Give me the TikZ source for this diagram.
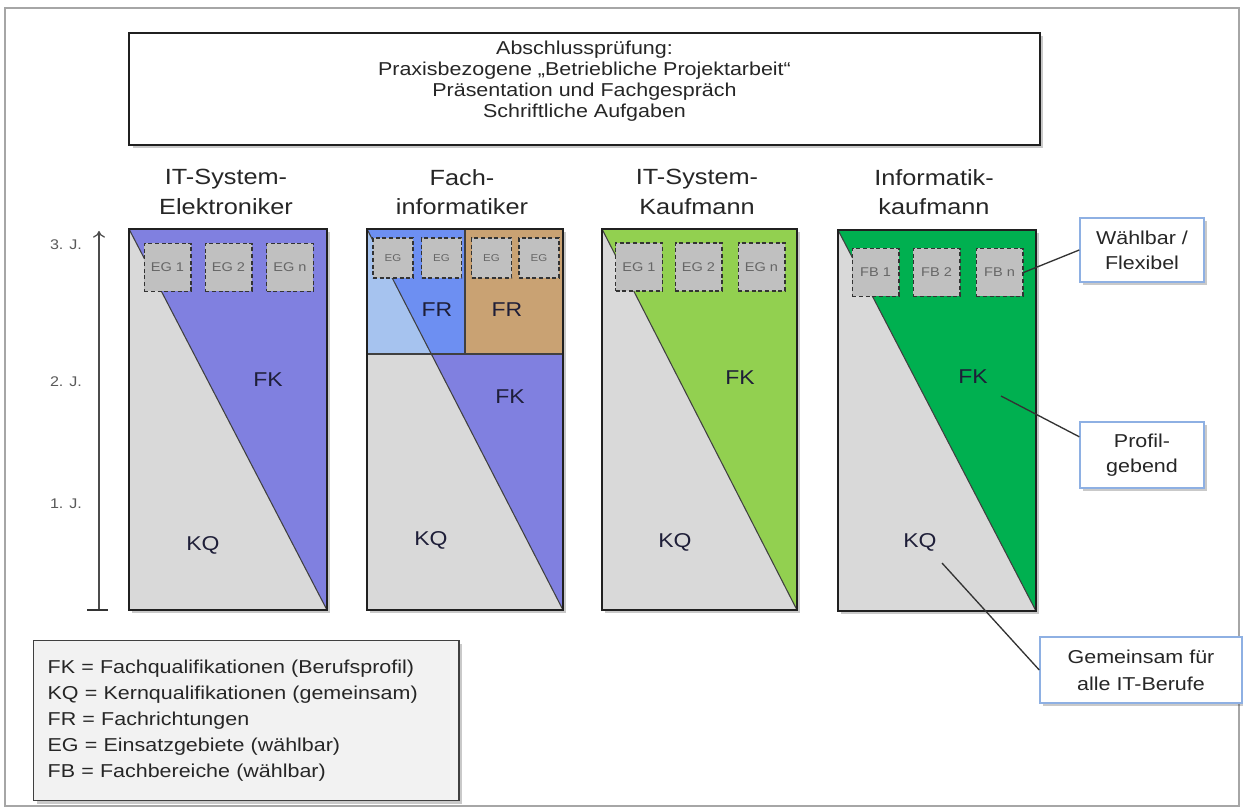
\documentclass[tikz,border=0pt]{standalone}
\usepackage{fontspec}
\setmainfont{Liberation Sans}[FakeStretch=1.15]
\usetikzlibrary{shadows,calc,arrows.meta}
\definecolor{kq}{HTML}{D9D9D9}
\definecolor{fkblue}{HTML}{8080E0}
\definecolor{frlight}{HTML}{A6C3EF}
\definecolor{frblue}{HTML}{6D8FF2}
\definecolor{frtan}{HTML}{C9A273}
\definecolor{fkgreenl}{HTML}{92D050}
\definecolor{fkgreen}{HTML}{00B050}
\definecolor{egfill}{HTML}{C0C0C0}
\definecolor{callb}{HTML}{8EB0E3}
\definecolor{legfill}{HTML}{F2F2F2}
\definecolor{ink}{HTML}{202020}
\definecolor{lab}{HTML}{1E1E38}
\begin{document}
\begin{tikzpicture}[x=0.75pt,y=-0.75pt,
  shad/.style={drop shadow={shadow xshift=2.5pt,shadow yshift=-2.5pt,opacity=0.3,fill=black!70}},
  colbox/.style={draw=ink,line width=1.1pt,fill=kq,shad},
  divline/.style={draw=black!75,line width=0.8pt},
  egbox/.style={draw=black!80,dash pattern=on 3pt off 2pt,line width=1pt,fill=egfill,text=black!60,
    font=\fontsize{9.5}{10}\selectfont,inner sep=0pt,minimum width=35pt,minimum height=36pt},
  egsmall/.style={egbox,minimum width=30pt,minimum height=30pt,font=\fontsize{7.5}{8}\selectfont},
  biglab/.style={text=lab,font=\fontsize{15}{17}\selectfont},
  header/.style={align=center,font=\fontsize{16.5}{22}\selectfont,text=black!85},
  yearlab/.style={text=black!65,font=\fontsize{10.5}{12}\selectfont},
  callout/.style={draw=callb,line width=1.1pt,fill=white,shad,align=center,
    font=\fontsize{14}{19}\selectfont,text=black!85,inner sep=0pt},
  conn/.style={draw=black!80,line width=1pt}
]
\useasboundingbox (0,0) rectangle (1243,809);
\draw[black!35,line width=0.8pt] (5,8) rectangle (1239,806);

% title box
\node[draw=ink,line width=1.3pt,fill=white,shad,minimum width=683pt,minimum height=84pt] (title) at (584.5,89) {};
\node[align=center,font=\fontsize{14}{15.8}\selectfont,text=black!85] (titletext) at (584.5,81.5)
  {Abschlussprüfung:\\Praxisbezogene „Betriebliche Projektarbeit“\\Präsentation und Fachgespräch\\Schriftliche Aufgaben};

% headers
\node[header] (h1) at (226,192) {IT-System-\\Elektroniker};
\node[header] (h2) at (462,192) {Fach-\\informatiker};
\node[header] (h3) at (697,192) {IT-System-\\Kaufmann};
\node[header] (h4) at (934,192) {Informatik-\\kaufmann};

% year axis
\coordinate (yb) at (99,610);
\coordinate (yt) at (99,231);
\coordinate (tl) at (87,610);
\coordinate (tr) at (108,610);
\draw[black!70,line width=0.9pt,-{To[length=5pt,width=9pt]}] (yb) -- (yt);
\draw[black!80,line width=1.1pt] (tl) -- (tr);
\node[yearlab] (y3) at (66,245) {3. J.};
\node[yearlab] (y2) at (66,382) {2. J.};
\node[yearlab] (y1) at (66,504) {1. J.};

% column 1
\draw[colbox] (129,229) rectangle (327,610);
\fill[fkblue] (129,229) -- (327,229) -- (327,610) -- cycle;
\draw[divline] (129,229) -- (327,610);
\draw[ink,line width=1.1pt] (129,229) rectangle (327,610);
\node[egbox] (c1e1) at (167.5,267.5) {EG 1};
\node[egbox] (c1e2) at (228.5,267.5) {EG 2};
\node[egbox] (c1e3) at (290,267.5) {EG n};
\node[biglab] (c1fk) at (268,380) {FK};
\node[biglab] (c1kq) at (203,545) {KQ};

% column 2
\draw[colbox] (367,229) rectangle (563,610);
\fill[frlight] (367,229) rectangle (465,354);
\fill[frblue] (367,229) -- (465,229) -- (465,354) -- (431.3,354) -- cycle;
\fill[frtan] (465,229) rectangle (563,354);
\fill[fkblue] (431.3,354) -- (563,354) -- (563,610) -- cycle;
\draw[divline] (367,229) -- (563,610);
\draw[divline] (367,354) -- (563,354);
\draw[divline] (465,229) -- (465,354);
\draw[ink,line width=1.1pt] (367,229) rectangle (563,610);
\node[egsmall] (c2e1) at (393,258) {EG};
\node[egsmall] (c2e2) at (441.5,258) {EG};
\node[egsmall] (c2e3) at (491.5,258) {EG};
\node[egsmall] (c2e4) at (539,258) {EG};
\node[biglab] (c2fr1) at (437,310) {FR};
\node[biglab] (c2fr2) at (507,310) {FR};
\node[biglab] (c2fk) at (510,397) {FK};
\node[biglab] (c2kq) at (431,540) {KQ};

% column 3
\draw[colbox] (602,229) rectangle (797,610);
\fill[fkgreenl] (602,229) -- (797,229) -- (797,610) -- cycle;
\draw[divline] (602,229) -- (797,610);
\draw[ink,line width=1.1pt] (602,229) rectangle (797,610);
\node[egbox] (c3e1) at (639,267) {EG 1};
\node[egbox] (c3e2) at (698.5,267) {EG 2};
\node[egbox] (c3e3) at (761.5,267) {EG n};
\node[biglab] (c3fk) at (740,378) {FK};
\node[biglab] (c3kq) at (675,542) {KQ};

% column 4
\draw[colbox] (838,230) rectangle (1036,611);
\fill[fkgreen] (838,230) -- (1036,230) -- (1036,611) -- cycle;
\draw[divline] (838,230) -- (1036,611);
\draw[ink,line width=1.1pt] (838,230) rectangle (1036,611);
\node[egbox] (fb1) at (875.5,272.5) {FB 1};
\node[egbox] (fb2) at (936.5,272.5) {FB 2};
\node[egbox] (fbn) at (999.5,272.5) {FB n};
\node[biglab] (c4fk) at (973,377) {FK};
\node[biglab] (c4kq) at (920,542) {KQ};

% callouts
\node[callout,minimum width=93pt,minimum height=48pt] (waehl) at (1142,250) {Wählbar /\\Flexibel};
\node[callout,minimum width=93pt,minimum height=49.5pt] (prof) at (1142,455) {Profil-\\gebend};
\node[callout,minimum width=151.5pt,minimum height=49.5pt,font=\fontsize{14}{20}\selectfont] (gem) at (1141,670) {Gemeinsam für\\alle IT-Berufe};
\coordinate (pfk) at (1001,396);
\coordinate (pkq) at (942,563);
\draw[conn] (fbn.east) -- (waehl.west);
\draw[conn] (pfk) -- ($(prof.north west)!0.23!(prof.south west)$);
\draw[conn] (pkq) -- (gem.west);

% legend
\node[draw=black!75,line width=1pt,fill=legfill,shad,align=left,anchor=north west,
  text width=298pt,inner xsep=10.5pt,inner ysep=0pt,minimum height=120pt,
  font=\fontsize{14}{19.5}\selectfont,text=black!85] (legend) at (33,640)
  {FK = Fachqualifikationen (Berufsprofil)\\KQ = Kernqualifikationen (gemeinsam)\\FR = Fachrichtungen\\EG = Einsatzgebiete (wählbar)\\FB = Fachbereiche (wählbar)};
\end{tikzpicture}
\end{document}
